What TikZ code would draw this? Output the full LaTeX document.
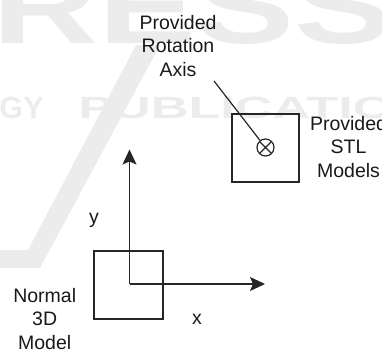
\documentclass[tikz,border=0pt]{standalone}
\usepackage{fontspec}
\setmainfont{Liberation Sans}
\usetikzlibrary{arrows.meta}
\definecolor{wmgray}{HTML}{ECECEC}
\begin{document}
\begin{tikzpicture}[x=1pt,y=-1pt,
  lbl/.style={font=\fontsize{19.5}{23.5}\selectfont, align=center, inner sep=0pt, text=black!90},
  boxshape/.style={draw=black!85, line width=1.3pt, inner sep=0pt},
  axisline/.style={draw=black!85, line width=1.3pt, -{Stealth[length=15pt,width=14pt,inset=3pt]}},
  wmtext/.style={text=wmgray, inner sep=0pt, font=\bfseries}]
\useasboundingbox (0,0) rectangle (382,351);
% faint watermark
\fill[wmgray] (136,45) -- (160,45) -- (40,268) -- (0,268) -- (0,250) -- (28,250) -- cycle;
\node[wmtext, anchor=base west, xscale=1.7, font=\bfseries\fontsize{30.7}{30}\selectfont] (wm1) at (78,118) {PUBLICATIONS};
\node[wmtext, anchor=base east, xscale=1.0, font=\bfseries\fontsize{30.7}{30}\selectfont] (wm2) at (44,118) {GY};
\node[wmtext, anchor=base west, xscale=1.4, font=\bfseries\fontsize{105}{105}\selectfont] (wm3) at (-8,43) {RESS};
% labels
\node[lbl] (axislbl) at (178,46) {Provided\\Rotation\\Axis};
\node[lbl] (stllbl) at (348.5,147) {Provided\\STL\\Models};
\node[lbl] (nlbl) at (44.7,319) {Normal\\3D\\Model};
\node[lbl] (ylbl) at (94,220) {y};
\node[lbl] (xlbl) at (197,319) {x};
% STL model box and rotation axis
\node[boxshape, minimum width=67pt, minimum height=68pt] (stl) at (265.5,148) {};
\node[circle, draw=black!85, line width=1.2pt, minimum size=17pt, inner sep=0pt,
  path picture={\draw[line width=1.1pt, black!85]
    (path picture bounding box.south west) -- (path picture bounding box.north east)
    (path picture bounding box.north west) -- (path picture bounding box.south east);}] (rot) at (265.5,147.5) {};
\coordinate (lp) at (214,81);
\draw[black!85, line width=1.2pt] (lp) -- (rot);
% normal model box and axes
\node[boxshape, minimum width=69pt, minimum height=68pt] (nm) at (128.5,285) {};
\coordinate (o) at (129.5,284);
\coordinate (ytip) at (129.5,149.5);
\coordinate (xtip) at (265,284);
\draw[axisline] (o) -- (ytip);
\draw[axisline] (o) -- (xtip);
\end{tikzpicture}
\end{document}
